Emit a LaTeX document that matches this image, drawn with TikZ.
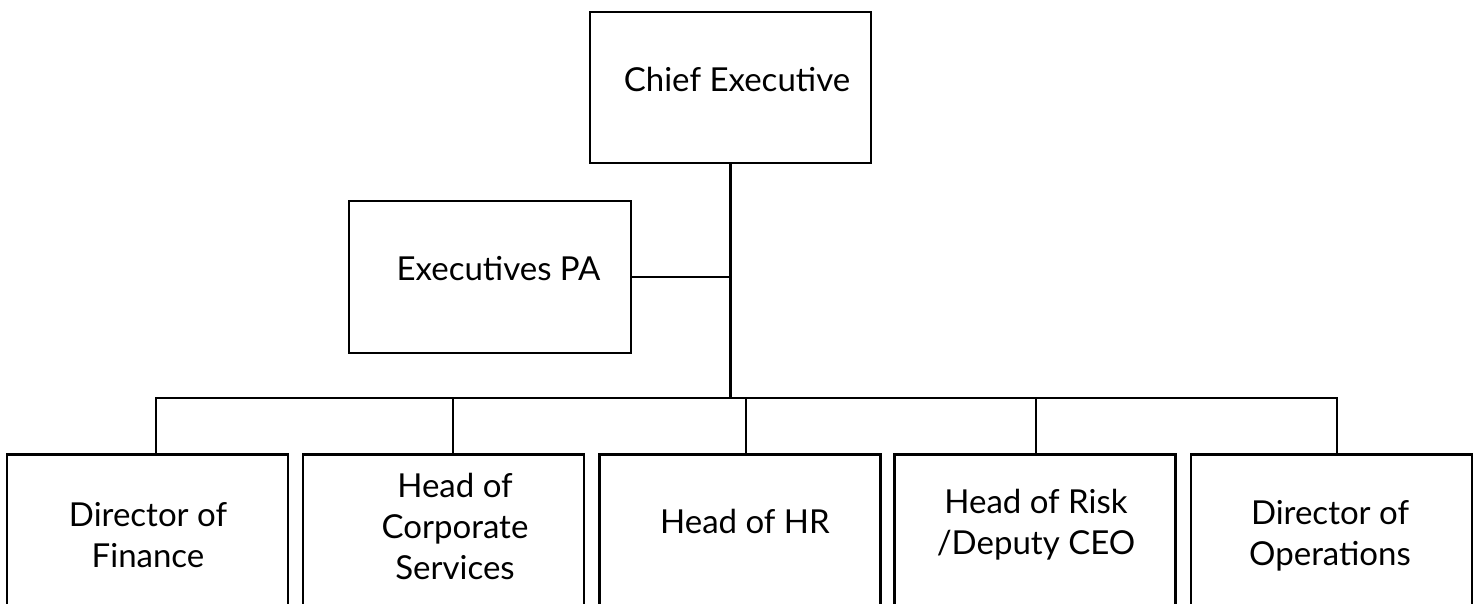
\documentclass[tikz,border=0pt]{standalone}
\usepackage{fontspec}
\setmainfont{Lato}
\usetikzlibrary{positioning}

\begin{document}
\begin{tikzpicture}[x=1pt, y=-1pt,
  unit/.style={draw=black, line width=2.8pt, fill=white, rectangle, inner sep=0pt,
    minimum width=281pt},
  txt/.style={align=center, inner sep=0pt, font=\fontsize{33}{41}\selectfont},
  link/.style={draw=black, line width=2.8pt}]
\useasboundingbox (0,0) rectangle (1479,603);
% top of the chart
\node[unit, minimum height=151pt] (ceo) at (730.5,87.5) {};
\node[unit, minimum height=152pt, minimum width=282pt] (pa) at (490,277) {};
% bottom row, cut off by the page edge
\node[unit, anchor=north, minimum height=220pt] (fin) at (147.5,453) {};
\node[unit, anchor=north, minimum height=220pt] (corp) at (443.5,453) {};
\node[unit, anchor=north, minimum height=220pt] (hr) at (740,453) {};
\node[unit, anchor=north, minimum height=220pt] (risk) at (1035,453) {};
\node[unit, anchor=north, minimum height=220pt] (ops) at (1331.5,453) {};
% labels
\node[txt] (ceoT) at (737,79) {Chief Executive};
\node[txt] (paT) at (498.5,269) {Executives PA};
\node[txt] (finT) at (148,535) {Director of\\Finance};
\node[txt] (corpT) at (455,526) {Head of\\Corporate\\Services};
\node[txt] (hrT) at (745,521) {Head of HR};
\node[txt] (riskT) at (1036,525) {Head of Risk\\/Deputy CEO};
\node[txt] (opsT) at (1330,536) {Director of\\Operations};
% connectors
\coordinate (bus) at (730.5,398);
\coordinate (finD) at ([xshift=8.5pt]fin.north);
\coordinate (corpD) at ([xshift=9.5pt]corp.north);
\coordinate (hrD) at ([xshift=6pt]hr.north);
\coordinate (riskD) at ([xshift=1pt]risk.north);
\coordinate (opsD) at ([xshift=5.5pt]ops.north);
\draw[link] (ceo.south) -- (bus);
\draw[link] (pa.east) -- (pa.east -| bus);
\draw[link] (finD) |- (bus) -| (opsD);
\draw[link] (corpD) -- (corpD |- bus);
\draw[link] (hrD) -- (hrD |- bus);
\draw[link] (riskD) -- (riskD |- bus);
\end{tikzpicture}
\end{document}
